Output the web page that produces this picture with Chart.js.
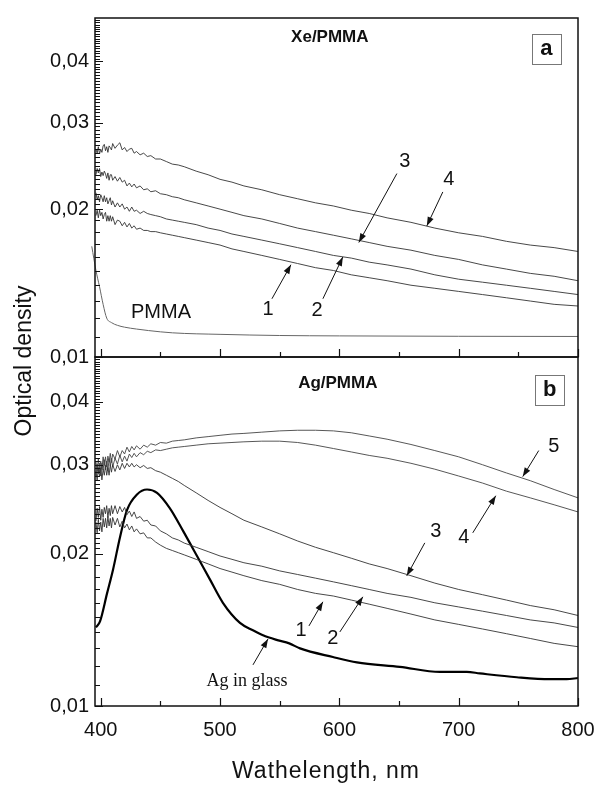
<!DOCTYPE html>
<html><head><meta charset="utf-8">
<script src="https://cdn.jsdelivr.net/npm/chart.js@4.4.1/dist/chart.umd.min.js"></script>
<style>
html,body{margin:0;padding:0;background:#fff;}
#wrap{position:relative;width:607px;height:787px;}
canvas{position:absolute;left:0;top:0;}
</style></head><body>
<div id="wrap"><canvas id="ca" width="607" height="787"></canvas><canvas id="cb" width="607" height="787"></canvas></div>
<script>
// ---- data (wavelength, nm) ----
const wl = [396,397,398,399,400,401,402,403,404,405,406,407,408,409,410,412,414,416,418,420,422,424,426,428,430,433,436,439,442,446,450,455,460,465,470,480,490,500,510,520,535,550,565,580,595,610,625,640,660,680,700,720,740,760,780,800];

// panel a : Xe/PMMA, curves 1..4
const xe1 = [.0194,.0199,.0192,.0199,.0194,.0197,.0191,.0195,.0197,.0189,.0194,.0189,.0194,.0189,.0193,.0186,.0190,.0189,.0185,.0188,.0184,.0187,.0183,.0185,.0182,.0183,.0181,.0181,.0180,.0180,.0179,.0178,.0177,.0176,.0175,.0173,.0171,.0169,.0166,.0164,.0161,.0158,.0155,.0152,.0150,.0147,.0145,.0143,.0140,.0138,.0136,.0134,.0132,.0130,.0128,.0127];
const xe2 = [.0216,.0209,.0213,.0207,.0214,.0211,.0207,.0213,.0207,.0211,.0205,.0208,.0211,.0204,.0208,.0202,.0206,.0202,.0205,.0200,.0202,.0198,.0202,.0198,.0199,.0196,.0198,.0196,.0195,.0194,.0193,.0191,.0190,.0189,.0188,.0186,.0183,.0181,.0178,.0176,.0173,.0170,.0167,.0164,.0161,.0159,.0156,.0154,.0151,.0147,.0144,.0142,.0140,.0138,.0136,.0134];
const xe3 = [.0235,.0242,.0237,.0242,.0233,.0238,.0234,.0239,.0236,.0231,.0237,.0229,.0235,.0235,.0229,.0233,.0228,.0232,.0227,.0229,.0223,.0226,.0222,.0225,.0221,.0223,.0219,.0220,.0217,.0218,.0215,.0214,.0212,.0211,.0209,.0206,.0203,.0200,.0197,.0194,.0191,.0187,.0183,.0180,.0177,.0174,.0171,.0168,.0165,.0161,.0158,.0154,.0151,.0148,.0146,.0143];
const xe4 = [.0265,.0260,.0268,.0259,.0265,.0261,.0269,.0271,.0263,.0268,.0261,.0269,.0267,.0264,.0272,.0266,.0270,.0273,.0264,.0267,.0262,.0265,.0266,.0260,.0262,.0258,.0260,.0256,.0257,.0253,.0253,.0250,.0247,.0246,.0244,.0239,.0235,.0230,.0227,.0223,.0219,.0214,.0210,.0206,.0203,.0199,.0196,.0192,.0188,.0183,.0179,.0176,.0172,.0169,.0167,.0164];
const pmmaX = [392.5,396,399,402,405,409,414,420,430,440,460,500,550,600,700,800];
const pmmaY = [.0168,.0150,.0139,.0128,.0120,.01175,.0116,.0115,.0114,.01132,.0112,.01112,.01106,.01104,.01102,.01101];

// panel b : Ag/PMMA, curves 1..5
const ag1 = [.0231,.0220,.0234,.0222,.0231,.0221,.0235,.0226,.0235,.0225,.0237,.0227,.0235,.0225,.0236,.0228,.0235,.0226,.0232,.0225,.0229,.0223,.0227,.0221,.0224,.0219,.0220,.0215,.0215,.0211,.0208,.0205,.0203,.0201,.0199,.0195,.0191,.0187,.0184,.0181,.0177,.0174,.0170,.0167,.0165,.0162,.0159,.0156,.0152,.0148,.0145,.0142,.0139,.0136,.0133,.0131];
const ag2 = [.0232,.0246,.0236,.0248,.0233,.0245,.0236,.0247,.0240,.0249,.0236,.0246,.0238,.0249,.0240,.0249,.0240,.0248,.0242,.0247,.0239,.0243,.0237,.0242,.0235,.0237,.0232,.0233,.0228,.0227,.0222,.0219,.0215,.0213,.0210,.0206,.0202,.0198,.0195,.0192,.0189,.0185,.0182,.0179,.0176,.0173,.0170,.0167,.0164,.0160,.0157,.0154,.0151,.0148,.0146,.0143];
const ag3 = [.0291,.0279,.0296,.0284,.0296,.0280,.0294,.0286,.0299,.0286,.0296,.0286,.0300,.0290,.0300,.0291,.0300,.0293,.0302,.0295,.0302,.0297,.0302,.0297,.0300,.0296,.0299,.0295,.0296,.0292,.0290,.0286,.0282,.0278,.0273,.0264,.0255,.0247,.0240,.0233,.0226,.0219,.0212,.0206,.0201,.0196,.0191,.0187,.0181,.0175,.0170,.0166,.0162,.0158,.0155,.0151];
const ag4 = [.0284,.0301,.0288,.0302,.0285,.0302,.0293,.0307,.0293,.0305,.0292,.0308,.0299,.0309,.0297,.0309,.0301,.0313,.0304,.0312,.0305,.0315,.0310,.0316,.0311,.0317,.0314,.0319,.0317,.0321,.0320,.0322,.0324,.0325,.0326,.0328,.0330,.0331,.0332,.0333,.0334,.0334,.0332,.0328,.0323,.0318,.0313,.0309,.0302,.0294,.0285,.0276,.0266,.0258,.0250,.0242];
const ag5 = [.0304,.0291,.0308,.0290,.0305,.0294,.0311,.0299,.0311,.0297,.0312,.0304,.0316,.0303,.0315,.0308,.0320,.0311,.0320,.0315,.0325,.0318,.0326,.0321,.0327,.0322,.0328,.0325,.0330,.0328,.0332,.0331,.0334,.0335,.0336,.0339,.0341,.0343,.0345,.0346,.0348,.0350,.0351,.0351,.0350,.0347,.0342,.0337,.0329,.0320,.0311,.0300,.0289,.0279,.0268,.0258];
const glassX = [396,399.4,405.3,410.3,416.2,422,430.4,438.8,447.2,458,469,480.7,491.5,502.4,516.7,528,536,548,558,567,594.6,614.7,650.7,684.2,706.8,717.7,748.7,776.3,790.5,800];
const glassY = [.0143,.0147,.0167,.0186,.0216,.0244,.0262,.0268,.0264,.0246,.0222,.0198,.0178,.0160,.0146,.0141,.0138,.0135,.0133,.0130,.0125,.0122,.01195,.01168,.01168,.0116,.0114,.0113,.0113,.01136];

// axis ticks
const xTicks = [400,500,600,700,800];
const yTicks = [0.01,0.02,0.03,0.04];
const X_MIN = 395.2, X_MAX = 800, Y_MIN = 0.01, Y_MAX = 0.049;

const SANS = "'Liberation Sans', Arial, sans-serif";
const SERIF = "'Liberation Serif', 'Times New Roman', serif";

// annotations (data coordinates)
const notesA = [
  {text:'Xe/PMMA', x:592, y:0.0447, font:'bold 17px '+SANS},
  {text:'a', x:773.4, y:0.0423, font:'bold 22px '+SANS, box:true},
  {text:'PMMA', x:450.5, y:0.01233, font:'20px '+SANS},
  {text:'1', x:540.2, y:0.0125, font:'20px '+SANS, arrow:[543.5,0.01314,559.4,0.01541]},
  {text:'2', x:581.3, y:0.01244, font:'20px '+SANS, arrow:[586.2,0.01314,602.9,0.01598]},
  {text:'3', x:654.9, y:0.02496, font:'20px '+SANS, arrow:[648.2,0.02363,616.3,0.01711]},
  {text:'4', x:691.7, y:0.02299, font:'20px '+SANS, arrow:[686.7,0.02168,673.3,0.01849]}
];
const notesB = [
  {text:'Ag/PMMA', x:598.7, y:0.0434, font:'bold 17px '+SANS},
  {text:'b', x:776.3, y:0.04215, font:'bold 22px '+SANS, box:true},
  {text:'5', x:779.7, y:0.03258, font:'20px '+SANS, arrow:[767.1,0.0320,753.7,0.02842]},
  {text:'4', x:704.3, y:0.02151, font:'20px '+SANS, arrow:[711.8,0.0220,731.1,0.02605]},
  {text:'3', x:680.8, y:0.02211, font:'20px '+SANS, arrow:[671.6,0.02102,656.5,0.01809]},
  {text:'1', x:567.8, y:0.01408, font:'20px '+SANS, arrow:[574.5,0.0144,586.2,0.01607]},
  {text:'2', x:594.6, y:0.01363, font:'20px '+SANS, arrow:[600.4,0.01401,619.7,0.01644]},
  {text:'Ag in glass', x:522.6, y:0.01121, font:'18px '+SERIF, arrow:[527.6,0.01206,540.2,0.01357]}
];

function pts(xs, ys){ return xs.map((x,i)=>({x:x, y:ys[i]})); }

function drawArrow(ctx, x1,y1,x2,y2){
  ctx.beginPath(); ctx.moveTo(x1,y1); ctx.lineTo(x2,y2); ctx.stroke();
  const ang = Math.atan2(y2-y1, x2-x1), L=9, W=3.2;
  ctx.beginPath();
  ctx.moveTo(x2,y2);
  ctx.lineTo(x2 - L*Math.cos(ang) + W*Math.sin(ang), y2 - L*Math.sin(ang) - W*Math.cos(ang));
  ctx.lineTo(x2 - L*Math.cos(ang) - W*Math.sin(ang), y2 - L*Math.sin(ang) + W*Math.cos(ang));
  ctx.closePath(); ctx.fill();
}

const panelPlugin = {
  id:'panel',
  afterDraw(chart, args, opts){
    const ctx = chart.ctx, a = chart.chartArea, xs = chart.scales.x, ys = chart.scales.y;
    ctx.save();
    ctx.strokeStyle = '#111'; ctx.fillStyle = '#111';
    // x ticks (inward)
    ctx.lineWidth = 1.2;
    for (let v = 400; v <= 800; v += 50){
      const px = Math.round(xs.getPixelForValue(v)) + 0.5;
      const len = (v % 100 === 0) ? 8 : 5;
      ctx.beginPath(); ctx.moveTo(px, a.bottom); ctx.lineTo(px, a.bottom - len); ctx.stroke();
    }
    // y ticks (inward)
    ctx.lineWidth = 1;
    for (let k = 10; k <= 48; k++){
      const step = k < 20 ? 1 : 0.5;
      for (let f = 0; f < 1; f += step){
        const v = (k + f) / 1000;
        if (v > Y_MAX) break;
        const py = Math.round(ys.getPixelForValue(v)) + 0.5;
        const len = (f === 0 && k % 10 === 0) ? 8 : 5;
        ctx.beginPath(); ctx.moveTo(a.left, py); ctx.lineTo(a.left + len, py); ctx.stroke();
      }
    }
    // frame
    ctx.lineWidth = 1.5;
    ctx.strokeRect(a.left, a.top, a.right - a.left, a.bottom - a.top);
    // annotations
    ctx.lineWidth = 1;
    ctx.textAlign = 'center'; ctx.textBaseline = 'middle';
    (opts.notes || []).forEach(n => {
      const px = xs.getPixelForValue(n.x), py = ys.getPixelForValue(n.y);
      ctx.font = n.font;
      if (n.box){
        ctx.save(); ctx.strokeStyle = '#777'; ctx.lineWidth = 1;
        ctx.strokeRect(Math.round(px - 14.5) + 0.5, Math.round(py - 15) + 0.5, 29, 30);
        ctx.restore();
      }
      ctx.fillText(n.text, px, py);
      if (n.arrow){
        drawArrow(ctx, xs.getPixelForValue(n.arrow[0]), ys.getPixelForValue(n.arrow[1]),
                       xs.getPixelForValue(n.arrow[2]), ys.getPixelForValue(n.arrow[3]));
      }
    });
    // axis titles
    if (opts.titles){
      ctx.font = '23px ' + SANS;
      try { ctx.letterSpacing = '1px'; } catch(e) {}
      ctx.fillText('Wathelength, nm', 326, 772);
      try { ctx.letterSpacing = '0px'; } catch(e) {}
      ctx.save(); ctx.translate(25, 361); ctx.rotate(-Math.PI/2);
      ctx.fillText('Optical density', 0, 0); ctx.restore();
    }
    ctx.restore();
  }
};

function makeOpts(padding, xHeight, showXLabels, notes, titles){
  return {
    responsive:false, animation:false, events:[],
    layout:{padding:padding},
    plugins:{legend:{display:false}, tooltip:{enabled:false}, panel:{notes:notes, titles:titles}},
    elements:{point:{radius:0}, line:{tension:0, borderJoinStyle:'round'}},
    scales:{
      x:{type:'linear', min:X_MIN, max:X_MAX,
         grid:{display:false, drawTicks:false}, border:{display:false},
         afterBuildTicks: s => { s.ticks = xTicks.map(v => ({value:v})); },
         ticks:{display:showXLabels, padding:12, color:'#111', maxRotation:0, autoSkip:false,
                font:{family:SANS, size:20}, callback: v => String(v)},
         afterFit: s => { s.height = xHeight; }},
      y:{type:'logarithmic', min:Y_MIN, max:Y_MAX,
         grid:{display:false, drawTicks:false}, border:{display:false},
         afterBuildTicks: s => { s.ticks = yTicks.map(v => ({value:v})); },
         ticks:{padding:6, color:'#111', autoSkip:false, font:{family:SANS, size:20},
                callback: v => Number(v).toFixed(2).replace('.', ',')},
         afterFit: s => { s.width = 95; }}
    }
  };
}

function line(data, color, width, extra){
  return Object.assign({data:data, borderColor:color, borderWidth:width, fill:false, pointRadius:0}, extra || {});
}

new Chart(document.getElementById('ca'), {
  type:'line',
  data:{datasets:[
    line(pts(wl, xe1), '#333', 0.9),
    line(pts(wl, xe2), '#333', 0.9),
    line(pts(wl, xe3), '#333', 0.9),
    line(pts(wl, xe4), '#333', 0.9),
    line(pts(pmmaX, pmmaY), '#666', 1, {clip:{left:6, top:0, right:0, bottom:0}, cubicInterpolationMode:'monotone'})
  ]},
  options: makeOpts({left:0, top:7, right:29, bottom:430}, 0, false, notesA, false),
  plugins:[panelPlugin]
});

new Chart(document.getElementById('cb'), {
  type:'line',
  data:{datasets:[
    line(pts(wl, ag1), '#333', 0.9),
    line(pts(wl, ag2), '#333', 0.9),
    line(pts(wl, ag3), '#333', 0.9),
    line(pts(wl, ag4), '#444', 0.9),
    line(pts(wl, ag5), '#444', 0.9),
    line(pts(glassX, glassY), '#000', 2.2, {cubicInterpolationMode:'monotone'})
  ]},
  options: makeOpts({left:0, top:357, right:29, bottom:0}, 81, true, notesB, true),
  plugins:[panelPlugin]
});
</script>
</body></html>
